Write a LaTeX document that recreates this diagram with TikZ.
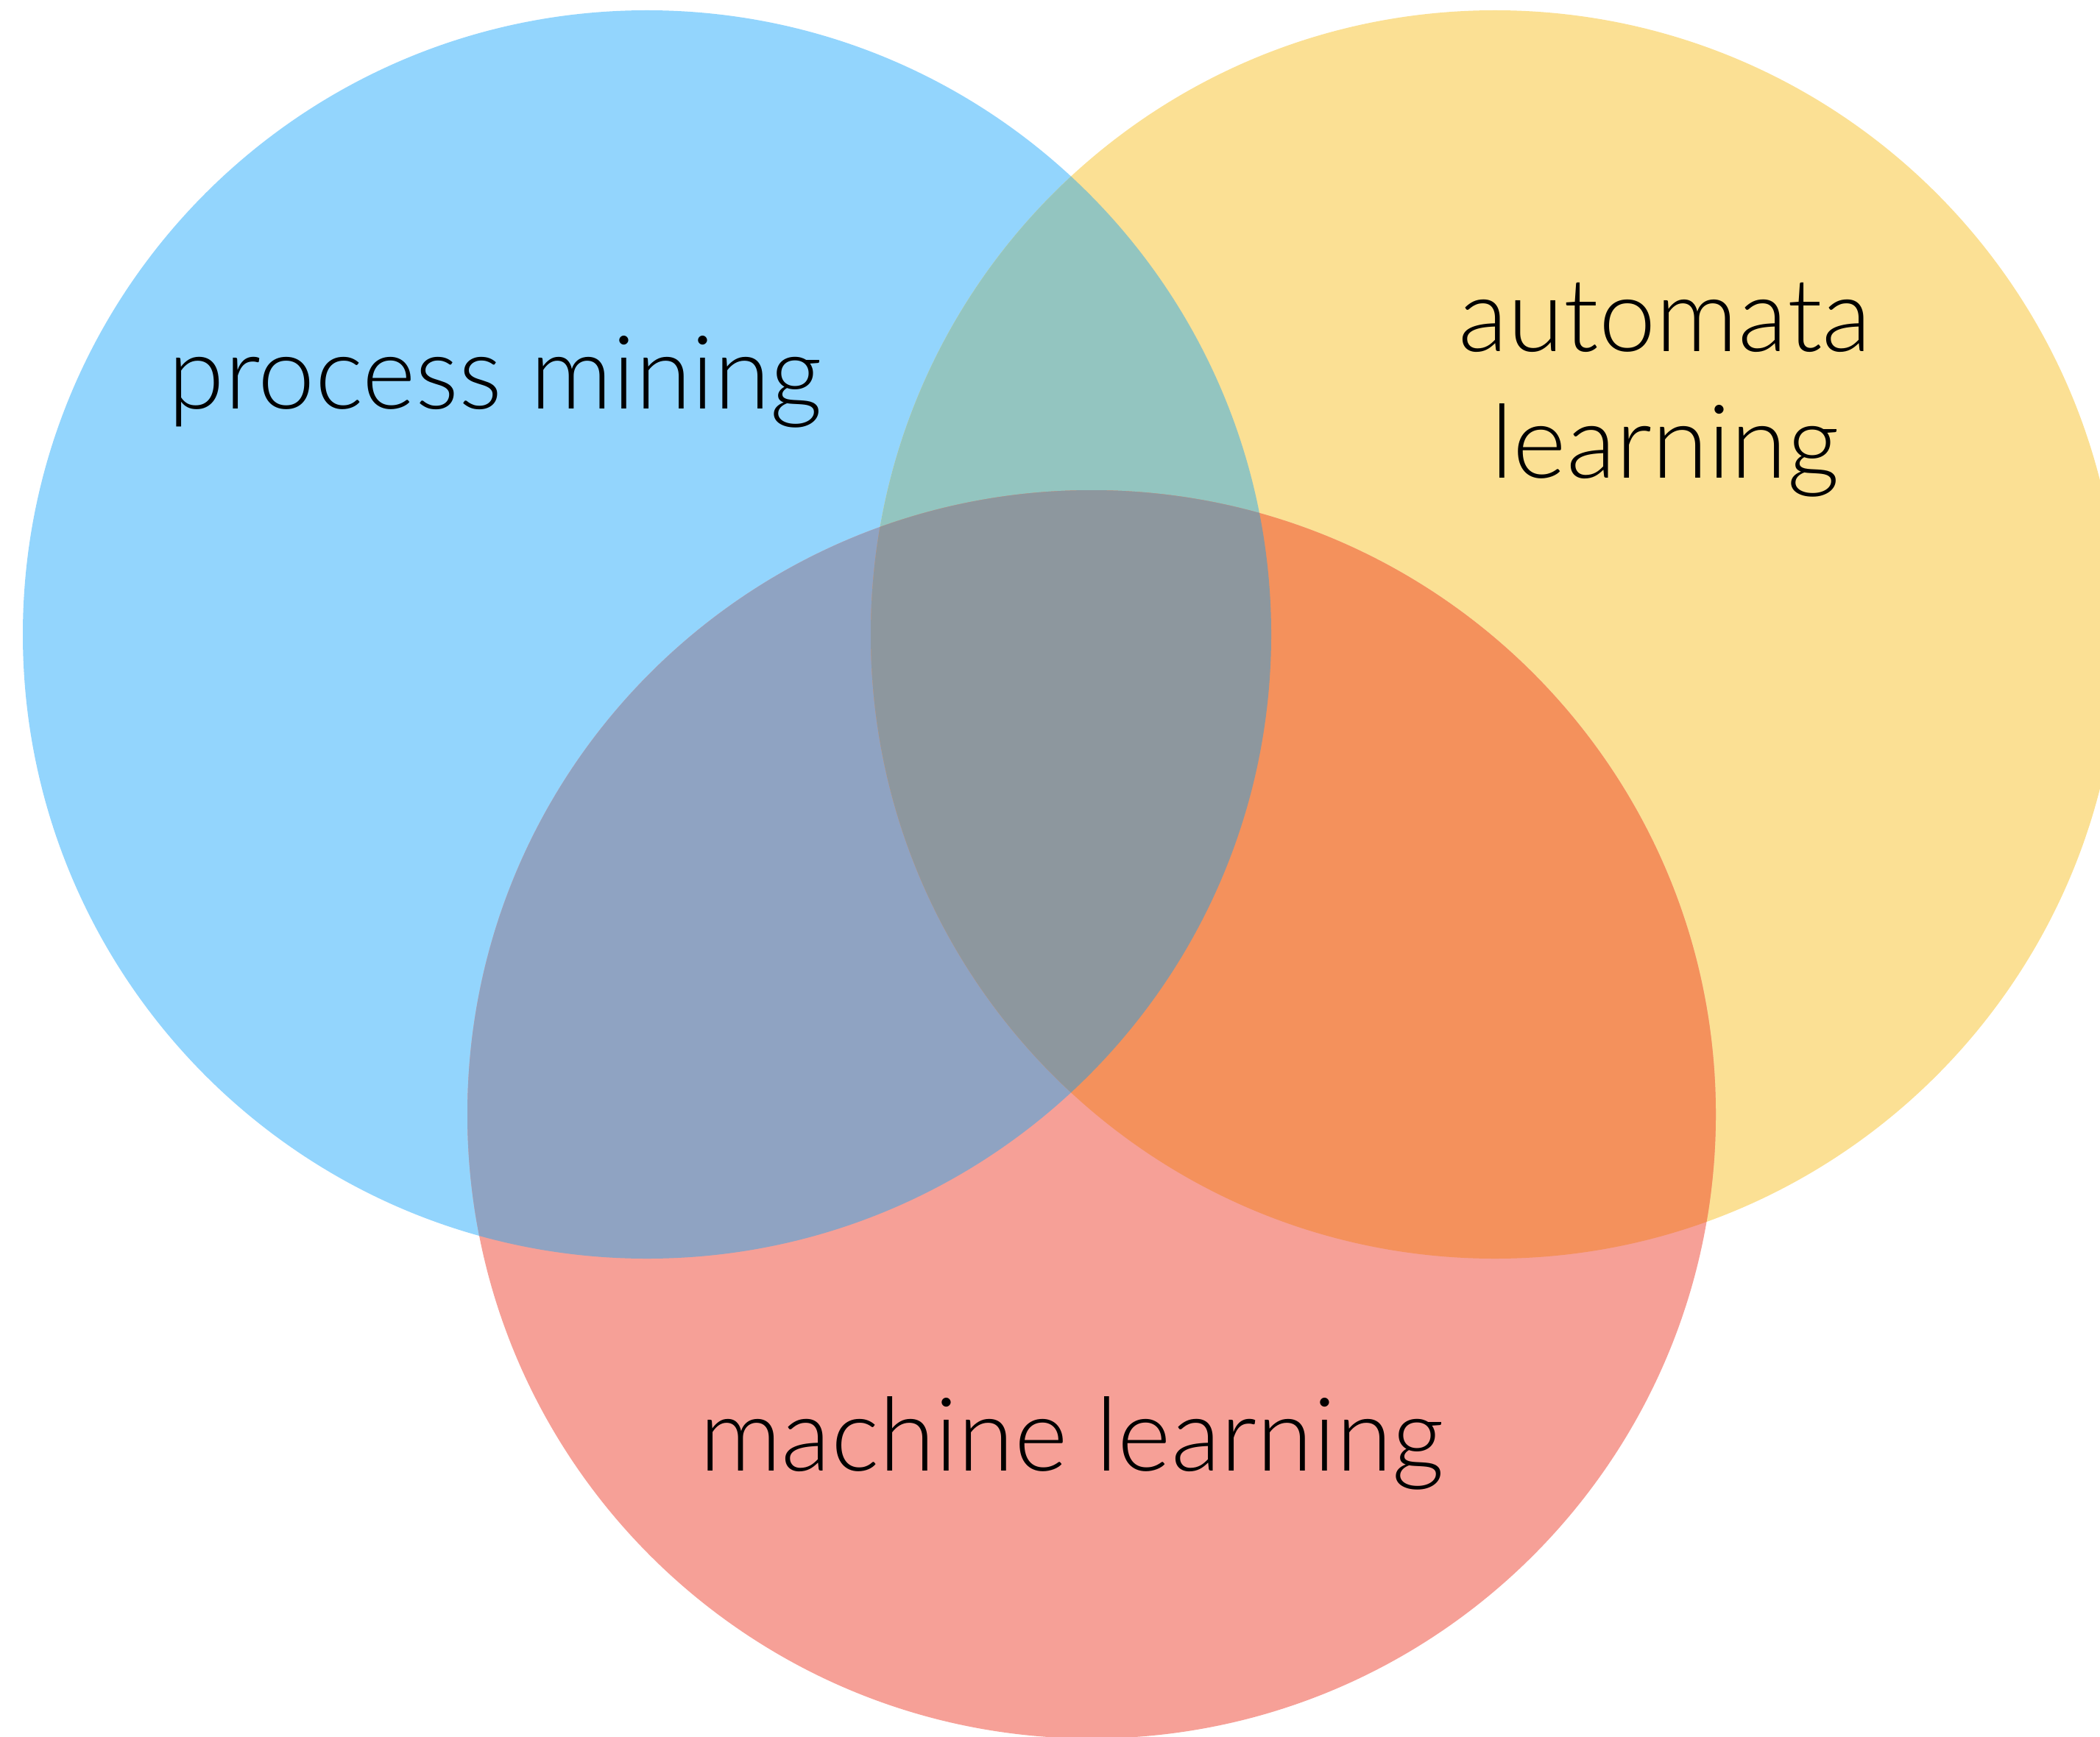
\documentclass[tikz,border=0pt]{standalone}
\usepackage{fontspec}
\IfFontExistsTF{Lato Light}{\setmainfont{Lato Light}}{\setmainfont{Lato}}
\usepackage{tikz}

\definecolor{pmblue}{RGB}{147,213,253}
\definecolor{alyellow}{RGB}{251,224,148}
\definecolor{mlred}{RGB}{246,160,151}
\definecolor{pmal}{RGB}{147,197,192}
\definecolor{pmml}{RGB}{143,163,194}
\definecolor{alml}{RGB}{244,145,92}
\definecolor{allthree}{RGB}{141,151,158}

\tikzset{
  label text/.style={font=\fontsize{39.5}{49}\selectfont, inner sep=0pt, align=center},
}

\begin{document}
\begin{tikzpicture}
\useasboundingbox (0,0) rectangle (28.53,-23.59);
\def\rad{8.48}
% the three sets
\fill[pmblue]   (8.79,-8.62)  circle (\rad);
\fill[alyellow] (20.31,-8.62) circle (\rad);
\fill[mlred]    (14.83,-15.14) circle (\rad);
% pairwise overlaps
\begin{scope}
\clip (8.79,-8.62) circle (\rad);
\fill[pmal] (20.31,-8.62) circle (\rad);
\fill[pmml] (14.83,-15.14) circle (\rad);
\end{scope}
\begin{scope}
\clip (20.31,-8.62) circle (\rad);
\fill[alml] (14.83,-15.14) circle (\rad);
\end{scope}
% all three
\begin{scope}
\clip (8.79,-8.62) circle (\rad);
\clip (20.31,-8.62) circle (\rad);
\fill[allthree] (14.83,-15.14) circle (\rad);
\end{scope}
% labels
\node[label text, anchor=base] (pm) at (6.73,-5.55) {process mining};
\node[label text, anchor=center] (al) at (22.62,-5.30) {automata\\learning};
\node[label text, anchor=base] (ml) at (14.56,-19.98) {machine learning};
\end{tikzpicture}
\end{document}
